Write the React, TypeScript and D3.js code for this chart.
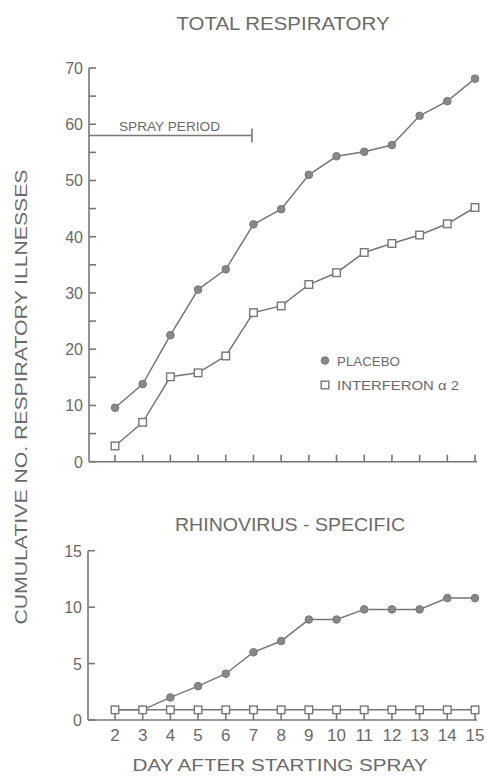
import React from "react";
import * as d3 from "d3";

const days = [2, 3, 4, 5, 6, 7, 8, 9, 10, 11, 12, 13, 14, 15];
const totalPlacebo = [9.6, 13.8, 22.5, 30.6, 34.2, 42.2, 44.9, 51.0, 54.3, 55.1, 56.3, 61.5, 64.1, 68.1];
const totalInterferon = [2.8, 7.0, 15.1, 15.8, 18.8, 26.5, 27.7, 31.5, 33.6, 37.2, 38.8, 40.3, 42.3, 45.2];
const rhinoPlacebo = [0.9, 0.9, 2.0, 3.0, 4.1, 6.0, 7.0, 8.9, 8.9, 9.8, 9.8, 9.8, 10.8, 10.8];
const rhinoInterferon = [0.9, 0.9, 0.9, 0.9, 0.9, 0.9, 0.9, 0.9, 0.9, 0.9, 0.9, 0.9, 0.9, 0.9];
const topTicksMajor = [0, 10, 20, 30, 40, 50, 60, 70];
const topTicksMinor = [5, 15, 25, 35, 45, 55, 65];
const botTicks = [0, 5, 10, 15];
const sprayEndDay = 7;
const sprayLevel = 58;

const INK = "#777";
const TXT = "#6a6a6a";
const FONT = "'Liberation Sans', Arial, sans-serif";

export default function App() {
  const x = d3.scaleLinear().domain([2, 15]).range([115, 475]);
  const yTop = d3.scaleLinear().domain([0, 70]).range([461.7, 68]);
  const yBot = d3.scaleLinear().domain([0, 15]).range([720, 550.7]);

  const lineTop = (vals: number[]) =>
    d3.line<number>().x((_, i) => x(days[i])).y((v) => yTop(v))(vals) || "";
  const lineBot = (vals: number[]) =>
    d3.line<number>().x((_, i) => x(days[i])).y((v) => yBot(v))(vals) || "";

  const axX0 = 89;
  const axXEnd = 477;
  const tick = 7;

  const circles = (vals: number[], y: (v: number) => number, k: string) =>
    vals.map((v, i) => (
      <circle key={k + i} cx={x(days[i])} cy={y(v)} r={3.8} fill="#888" stroke={INK} strokeWidth={1} />
    ));
  const squares = (vals: number[], y: (v: number) => number, k: string) =>
    vals.map((v, i) => (
      <rect key={k + i} x={x(days[i]) - 3.8} y={y(v) - 3.8} width={7.6} height={7.6} fill="#fff" stroke={INK} strokeWidth={1.4} />
    ));

  return (
    <svg width={487} height={776} style={{ position: "absolute", left: 0, top: 0, background: "#fff" }} fontFamily={FONT}>
      {/* Titles */}
      <text x={283} y={30} textAnchor="middle" fontSize={18} fill={TXT} textLength={213} lengthAdjust="spacingAndGlyphs">TOTAL RESPIRATORY</text>
      <text x={290} y={531} textAnchor="middle" fontSize={18} fill={TXT} textLength={230} lengthAdjust="spacingAndGlyphs">RHINOVIRUS - SPECIFIC</text>
      <text x={280} y={771} textAnchor="middle" fontSize={16} fill={TXT} textLength={295} lengthAdjust="spacingAndGlyphs">DAY AFTER STARTING SPRAY</text>
      <text transform="translate(27,397) rotate(-90)" textAnchor="middle" fontSize={17} fill={TXT} textLength={455} lengthAdjust="spacingAndGlyphs">CUMULATIVE NO. RESPIRATORY ILLNESSES</text>

      {/* Top chart axes */}
      <line x1={axX0} x2={axX0} y1={yTop(70)} y2={yTop(0)} stroke={INK} strokeWidth={1.6} />
      <line x1={axX0} x2={axXEnd} y1={yTop(0)} y2={yTop(0)} stroke={INK} strokeWidth={1.6} />
      {topTicksMajor.concat(topTicksMinor).map((t) => (
        <line key={"tt" + t} x1={axX0} x2={axX0 + tick} y1={yTop(t)} y2={yTop(t)} stroke={INK} strokeWidth={1.6} />
      ))}
      {topTicksMajor.map((t) => (
        <text key={"tl" + t} x={83} y={yTop(t) + 6} textAnchor="end" fontSize={16} fill={TXT}>{t}</text>
      ))}
      {days.map((d) => (
        <line key={"tx" + d} x1={x(d)} x2={x(d)} y1={yTop(0)} y2={yTop(0) - tick} stroke={INK} strokeWidth={1.6} />
      ))}

      {/* Spray period */}
      <line x1={axX0} x2={x(sprayEndDay) - 1.5} y1={yTop(sprayLevel)} y2={yTop(sprayLevel)} stroke={INK} strokeWidth={1.6} />
      <line x1={x(sprayEndDay) - 1.5} x2={x(sprayEndDay) - 1.5} y1={yTop(sprayLevel) - 7} y2={yTop(sprayLevel) + 7} stroke={INK} strokeWidth={1.6} />
      <text x={119} y={130.5} fontSize={12.5} fill={TXT} textLength={101} lengthAdjust="spacingAndGlyphs">SPRAY PERIOD</text>

      {/* Top series */}
      <path d={lineTop(totalPlacebo)} fill="none" stroke={INK} strokeWidth={1.5} />
      <path d={lineTop(totalInterferon)} fill="none" stroke={INK} strokeWidth={1.5} />
      {circles(totalPlacebo, yTop, "tp")}
      {squares(totalInterferon, yTop, "ti")}

      {/* Legend */}
      <circle cx={325} cy={360.5} r={3.8} fill="#888" stroke={INK} strokeWidth={1} />
      <text x={337} y={365.5} fontSize={13} fill={TXT} textLength={63} lengthAdjust="spacingAndGlyphs">PLACEBO</text>
      <rect x={321.2} y={381.2} width={7.6} height={7.6} fill="#fff" stroke={INK} strokeWidth={1.4} />
      <text x={337} y={390} fontSize={13} fill={TXT} textLength={122} lengthAdjust="spacingAndGlyphs">INTERFERON α 2</text>

      {/* Bottom chart axes */}
      <line x1={88} x2={88} y1={yBot(15)} y2={yBot(0)} stroke={INK} strokeWidth={1.6} />
      <line x1={88} x2={axXEnd} y1={yBot(0)} y2={yBot(0)} stroke={INK} strokeWidth={1.6} />
      {botTicks.map((t) => (
        <line key={"bt" + t} x1={88} x2={88 + tick} y1={yBot(t)} y2={yBot(t)} stroke={INK} strokeWidth={1.6} />
      ))}
      {botTicks.map((t) => (
        <text key={"bl" + t} x={82} y={yBot(t) + 6} textAnchor="end" fontSize={16} fill={TXT}>{t}</text>
      ))}
      {days.map((d) => (
        <line key={"bx" + d} x1={x(d)} x2={x(d)} y1={yBot(0)} y2={yBot(0) - tick - 3} stroke={INK} strokeWidth={1.6} />
      ))}
      {days.map((d) => (
        <text key={"bxl" + d} x={x(d)} y={741} textAnchor="middle" fontSize={17} fill={TXT}>{d}</text>
      ))}

      {/* Bottom series */}
      <path d={lineBot(rhinoPlacebo)} fill="none" stroke={INK} strokeWidth={1.5} />
      <path d={lineBot(rhinoInterferon)} fill="none" stroke={INK} strokeWidth={1.5} />
      {circles(rhinoPlacebo, yBot, "bp")}
      {squares(rhinoInterferon, yBot, "bi")}
    </svg>
  );
}
